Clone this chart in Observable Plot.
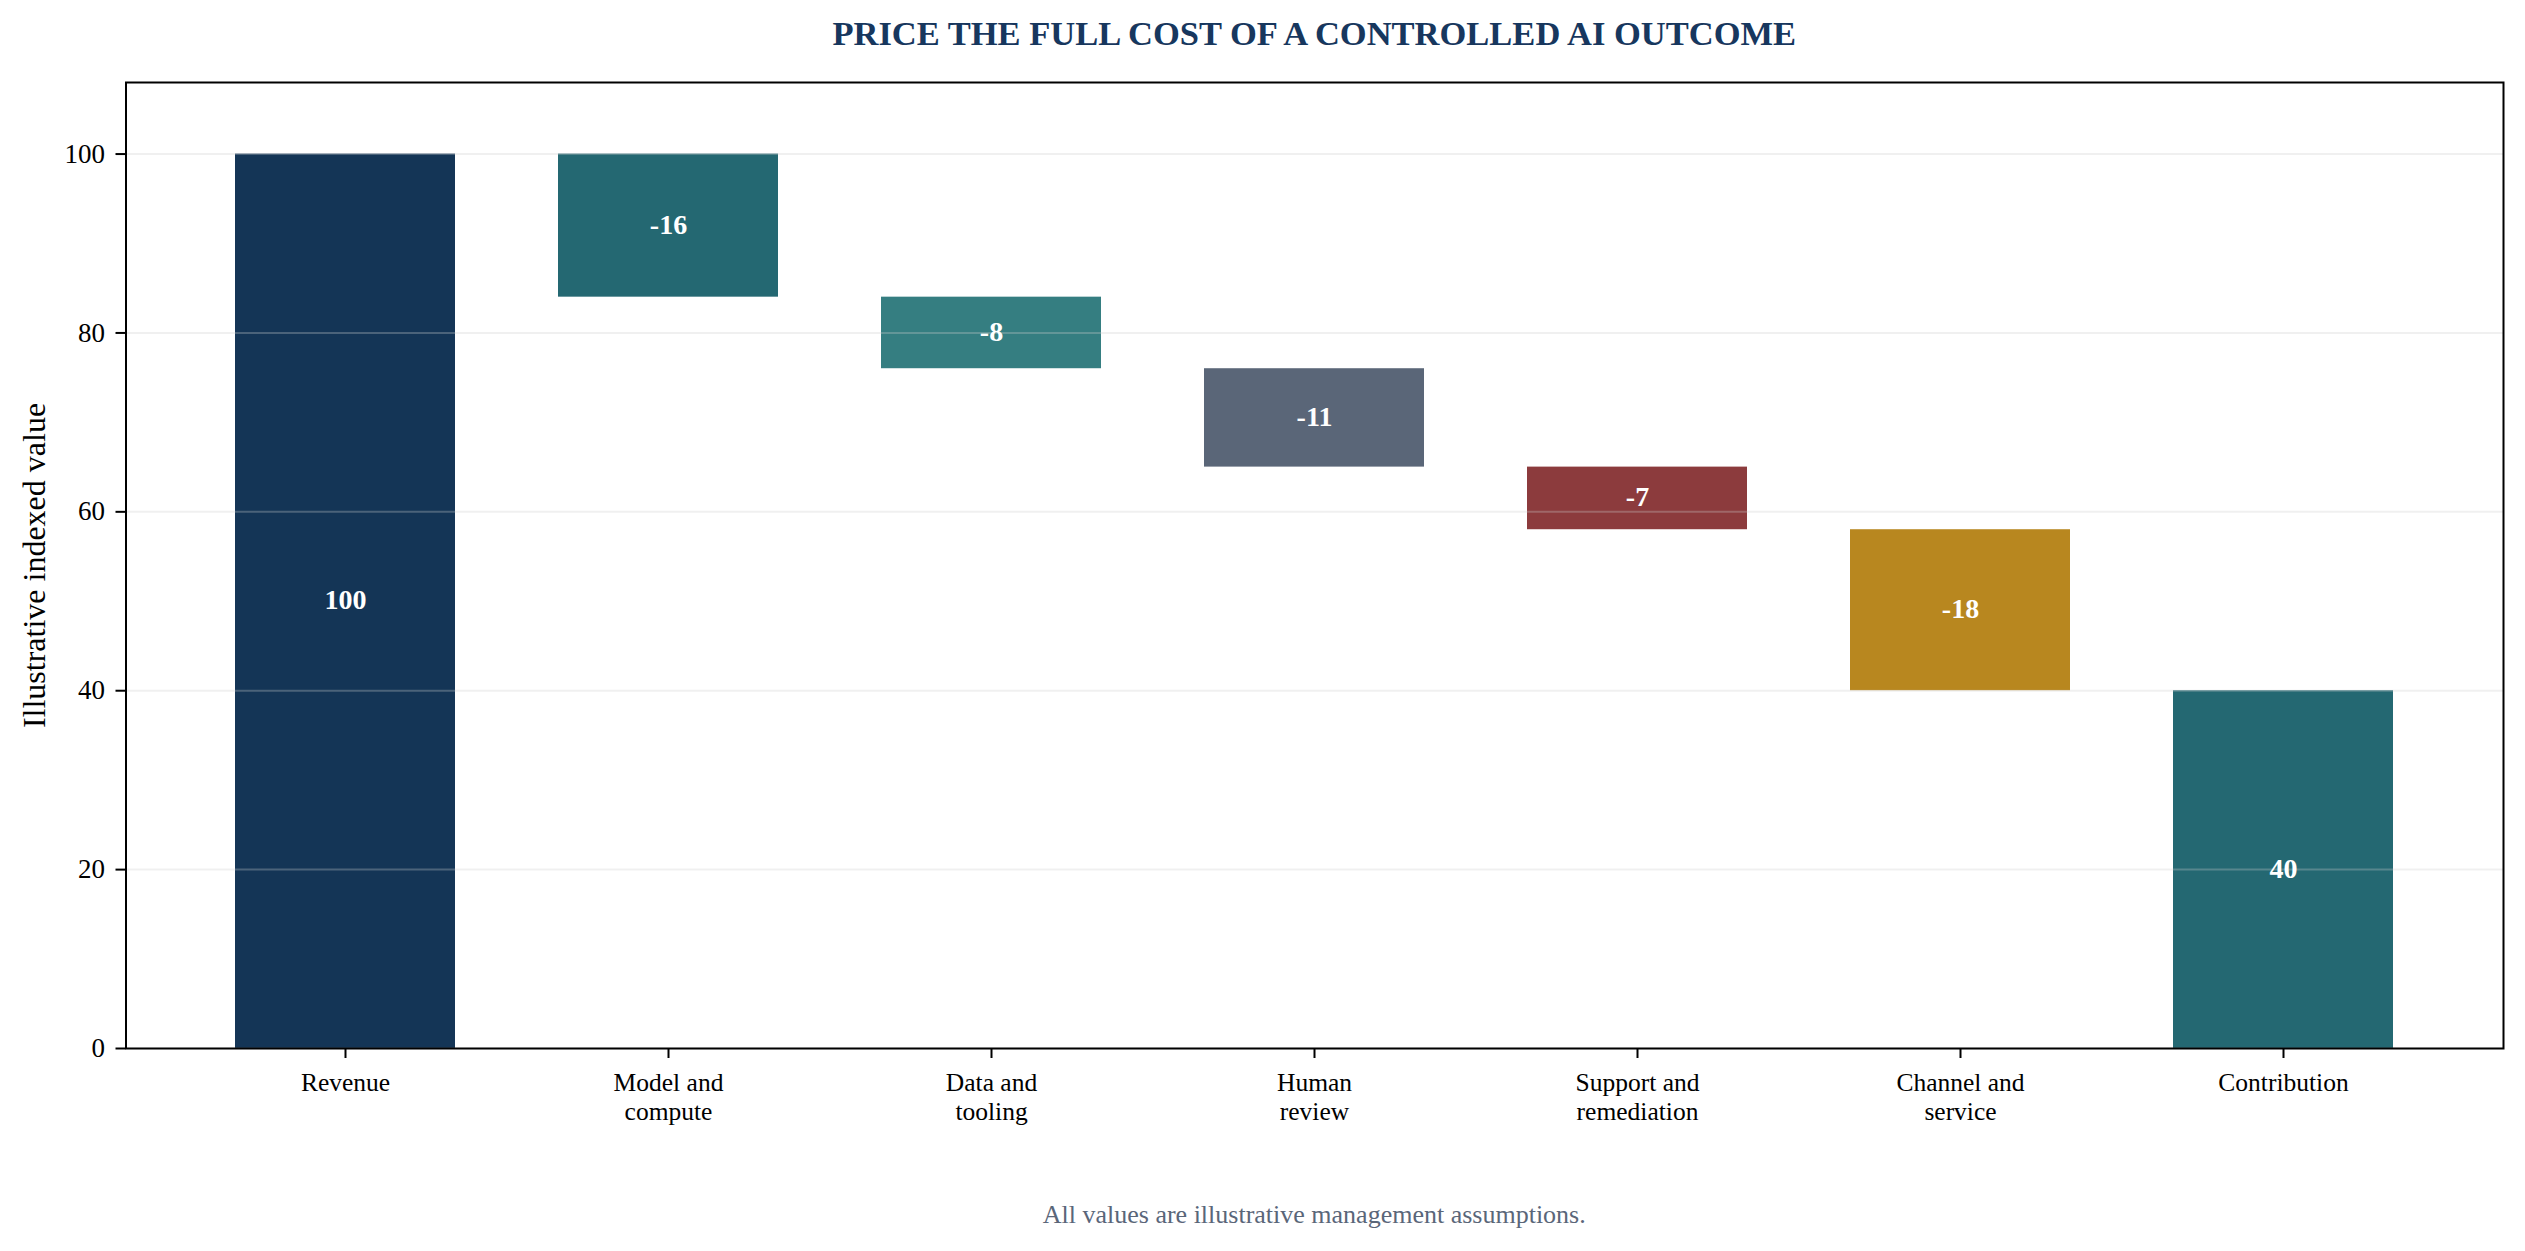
<!DOCTYPE html>
<html><head><meta charset="utf-8">
<script src="https://cdn.jsdelivr.net/npm/d3@7"></script>
<script src="https://cdn.jsdelivr.net/npm/@observablehq/plot@0.6"></script>
<style>
html,body{margin:0;padding:0;background:#fff;}
body{width:2525px;height:1251px;overflow:hidden;font-family:"Liberation Serif","Times New Roman",serif;}
#title{box-sizing:border-box;width:2525px;padding-left:103.5px;height:66px;line-height:66px;text-align:center;font-weight:bold;font-size:34.5px;color:#17375e;}
#caption{box-sizing:border-box;width:2525px;padding-left:103.5px;height:78px;line-height:78px;text-align:center;font-size:26px;color:#5a6679;}
svg{display:block;}
g[aria-label="y-axis label"] text{font-size:32px;}
</style></head><body>
<div id="title">PRICE THE FULL COST OF A CONTROLLED AI OUTCOME</div>
<div id="chart"></div>
<div id="caption">All values are illustrative management assumptions.</div>
<script>
const categories = ["Revenue","Model and compute","Data and tooling","Human review","Support and remediation","Channel and service","Contribution"];
const tickLabels = ["Revenue","Model and\ncompute","Data and\ntooling","Human\nreview","Support and\nremediation","Channel and\nservice","Contribution"];
const values = [100,-16,-8,-11,-7,-18,40];
const kinds = ["total","delta","delta","delta","delta","delta","total"];
const colors = ["#143556","#246872","#357e81","#5a6678","#8c3b3d","#b8871f","#246872"];
const yTicks = [0,20,40,60,80,100];
const yDomain = [0,108];

let running = 0;
const rows = categories.map((c,i) => {
  let y1, y2;
  if (kinds[i] === "total") { y1 = 0; y2 = values[i]; running = values[i]; }
  else { y1 = running; y2 = running + values[i]; running = y2; }
  return {category: c, y1, y2, mid: (y1 + y2) / 2, label: String(values[i]), color: colors[i]};
});
const labelFor = new Map(categories.map((c,i) => [c, tickLabels[i]]));

const chart = Plot.plot({
  width: 2525,
  height: 1110,
  marginLeft: 125.5,
  marginRight: 22,
  marginTop: 16,
  marginBottom: 128,
  style: {fontFamily: '"Liberation Serif","Times New Roman",serif', background: "#fff", color: "#000"},
  x: {domain: categories, paddingInner: 0.32, paddingOuter: 0.34, align: 0.5},
  y: {domain: yDomain},
  marks: [
    Plot.barY(rows, {x: "category", y1: "y1", y2: "y2", fill: "color"}),
    Plot.gridY(yTicks, {stroke: "#cccccc", strokeOpacity: 0.3, strokeWidth: 2}),
    Plot.text(rows, {x: "category", y: "mid", text: "label", fill: "white", fontWeight: "bold", fontSize: 28, dy: -1}),
    Plot.frame({stroke: "black", strokeWidth: 2}),
    Plot.axisY({ticks: yTicks, tickSize: 10, tickPadding: 11, fontSize: 27, strokeWidth: 2, label: "Illustrative indexed value", labelAnchor: "center", labelArrow: "none", labelOffset: 104, fill: "black"}),
    Plot.axisX({tickSize: 10, tickPadding: 12, fontSize: 25.5, lineHeight: 1.14, strokeWidth: 2, tickFormat: d => labelFor.get(d), label: null, fill: "black"})
  ]
});
document.getElementById("chart").appendChild(chart);
</script>
</body></html>
